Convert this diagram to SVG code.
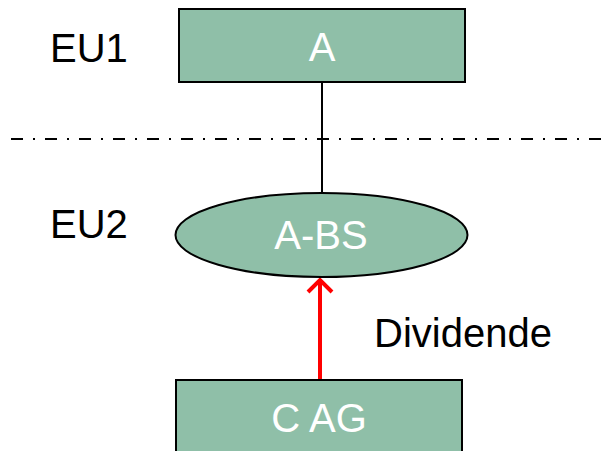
<svg xmlns="http://www.w3.org/2000/svg" width="601" height="451" viewBox="0 0 601 451">
  <style>
    .node { fill: #8fbfa8; stroke: #000; stroke-width: 2; }
    .lbl { font-family: "Liberation Sans", Arial, sans-serif; font-size: 40px; }
    .in { fill: #fff; text-anchor: middle; }
    .out { fill: #000; }
    .flow { fill: none; stroke: #ff0000; stroke-width: 4; }
  </style>
  <rect width="601" height="451" fill="#fff"/>

  <!-- level separator -->
  <line x1="11" y1="139" x2="601" y2="139" stroke="#000" stroke-width="2" stroke-dasharray="12,10,2,10"/>

  <!-- level labels -->
  <text class="lbl out" x="50" y="62">EU1</text>
  <text class="lbl out" x="50" y="238">EU2</text>
  <text class="lbl out" x="374" y="347" font-size="39.5">Dividende</text>

  <g id="connectors">
    <line x1="322" y1="82" x2="322" y2="193" stroke="#000" stroke-width="2"/>
    <line class="flow" x1="320" y1="380" x2="320" y2="281"/>
    <path class="flow" d="M308,292 L320,280 L332,292" stroke-linejoin="miter"/>
  </g>

  <g id="node-a">
    <rect class="node" x="179" y="9" width="286" height="73"/>
    <text class="lbl in" x="322" y="61">A</text>
  </g>

  <g id="node-a-bs">
    <ellipse class="node" cx="321.5" cy="235" rx="146" ry="42"/>
    <text class="lbl in" x="321" y="249">A-BS</text>
  </g>

  <g id="node-c-ag">
    <rect class="node" x="176" y="380" width="286" height="80"/>
    <text class="lbl in" x="319" y="432">C AG</text>
  </g>
</svg>
